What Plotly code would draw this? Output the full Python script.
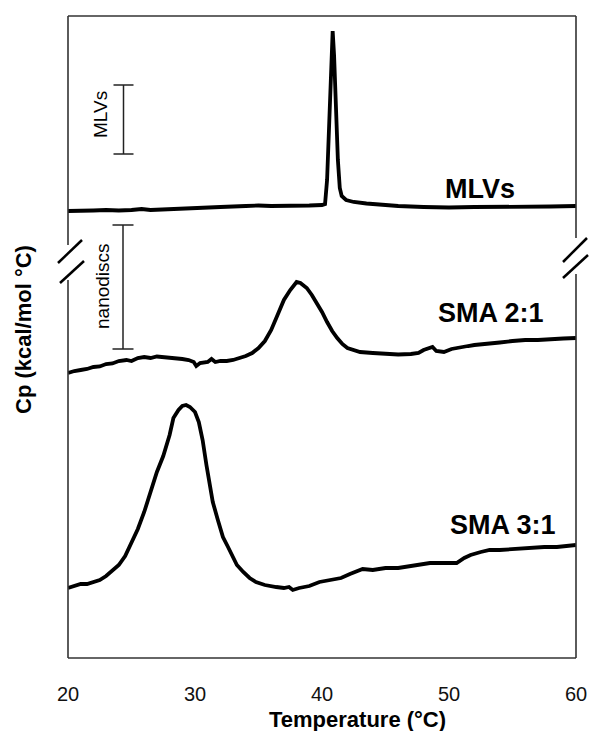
import plotly.graph_objects as go

# ---- data (Cp in arbitrary units) ----
mlv_t = [20, 21, 22, 23, 24, 25, 25.8, 26.5, 28, 30, 32, 34, 35, 36, 37, 38, 39, 40, 40.24, 40.4,
         40.55, 40.7, 40.84, 40.95, 41.1, 41.25, 41.4, 41.55, 41.9, 42.5, 43.5, 45, 46, 48, 50, 52,
         55, 58, 60]
mlv_cp = [447, 447, 447.5, 448, 447.5, 448, 449, 448, 449, 450, 451, 452, 452.5, 452, 452, 452.5,
          452.5, 453, 454, 478, 538, 598, 627, 603, 548, 498, 470, 462, 458, 456, 454.5, 453, 452,
          451, 450.5, 451, 451, 451.5, 452]

sma21_t = [20.0, 20.5, 21.0, 21.5, 22.0, 22.5, 23.0, 23.5, 24.0, 24.6, 25.0, 25.5, 26.0, 26.5,
           27.0, 27.5, 28.0, 28.5, 29.0, 29.5, 29.9, 30.1, 30.4, 31.0, 31.3, 31.6, 32.0, 32.5,
           33.0, 33.5, 34.0, 34.5, 35.0, 35.5, 36.0, 36.5, 37.0, 37.5, 38.0, 38.3, 38.8, 39.2,
           39.6, 40.0, 40.4, 40.8, 41.2, 41.6, 42.0, 42.5, 43.0, 44.0, 45.0, 46.0, 47.0, 47.6,
           48.0, 48.4, 48.7, 49.0, 49.6, 50.2, 50.9, 51.5, 52.0, 53.0, 53.5, 54.0, 55.0, 56.0,
           57.0, 58.0, 59.0, 60.0]
sma21_cp = [285, 287, 288, 289, 291, 291.5, 294, 294.5, 297, 298, 297, 300, 301, 300, 301.5, 301,
            300, 299.5, 299, 298, 296, 292, 295, 296, 299, 296, 297, 297, 298, 300, 302, 305, 310,
            317, 328, 343, 358, 368, 376, 375, 370, 363, 355, 346, 336, 327, 320, 314, 310, 308,
            306, 305, 304, 303.5, 304, 305, 308, 310, 311, 307, 306, 309, 311, 312, 313, 314, 315,
            315.5, 317, 318, 318, 319, 319.5, 320]

sma31_t = [20.0, 20.5, 21.0, 21.5, 22.0, 22.5, 23.0, 23.5, 24.0, 24.5, 25.0, 25.5, 26.0, 26.5,
           27.0, 27.5, 28.0, 28.3, 28.7, 29.0, 29.3, 29.6, 30.0, 30.3, 30.6, 30.9, 31.1, 31.4,
           31.8, 32.2, 32.6, 33.0, 33.3, 33.8, 34.3, 34.8, 35.5, 36.4, 37.0, 37.4, 37.7, 38.2,
           39.0, 39.8, 40.6, 41.5, 42.2, 43.2, 44.0, 45.0, 46.0, 47.0, 48.0, 48.5, 49.5, 50.6,
           51.2, 51.7, 52.5, 53.2, 54.0, 55.0, 56.4, 57.5, 58.5, 59.3, 60.0]
sma31_cp = [70, 72, 74, 74, 76, 78, 82, 87, 93, 102, 115, 129, 146, 165, 186, 202, 223, 240, 248,
            252, 253, 251, 246, 236, 218, 193, 176, 156, 138, 121, 111, 101, 93, 86, 80, 76, 73, 71,
            70, 71, 68, 70, 72, 76, 78, 80, 84, 89, 88, 90, 90, 92, 94, 95, 95, 95, 100, 103, 106,
            108, 108, 109, 110, 111, 111, 112, 113]

x_ticks = [20, 30, 40, 50, 60]
series_labels = ["MLVs", "SMA 2:1", "SMA 3:1"]

W, H = 590, 731
ML, MR, MT, MB = 68, 14, 16, 73
PW, PH = W - ML - MR, H - MT - MB


def px(x):
    return (x - ML) / PW


def py(y):
    return (H - MB - y) / PH


FONT = "Arial, Liberation Sans, sans-serif"
fig = go.Figure()
for t, cp in [(mlv_t, mlv_cp), (sma21_t, sma21_cp), (sma31_t, sma31_cp)]:
    fig.add_trace(go.Scatter(x=t, y=cp, mode="lines",
                             line=dict(color="black", width=3.8), showlegend=False,
                             hoverinfo="skip"))

shapes = []
fc = "#333333"
fw = 1.6
# frame with breaks
shapes.append(dict(type="line", xref="paper", yref="paper", x0=0, x1=1, y0=1, y1=1,
                   line=dict(color=fc, width=fw)))
shapes.append(dict(type="line", xref="paper", yref="paper", x0=0, x1=1, y0=0, y1=0,
                   line=dict(color=fc, width=fw)))
shapes.append(dict(type="line", xref="paper", yref="paper", x0=0, x1=0, y0=1, y1=py(245),
                   line=dict(color=fc, width=fw)))
shapes.append(dict(type="line", xref="paper", yref="paper", x0=0, x1=0, y0=py(280), y1=0,
                   line=dict(color=fc, width=fw)))
shapes.append(dict(type="line", xref="paper", yref="paper", x0=1, x1=1, y0=1, y1=py(238),
                   line=dict(color=fc, width=fw)))
shapes.append(dict(type="line", xref="paper", yref="paper", x0=1, x1=1, y0=py(274), y1=0,
                   line=dict(color=fc, width=fw)))
# break marks
for (x0, y0, x1, y1) in [(58, 263, 82, 240), (60, 283, 84, 261),
                         (563, 262, 587, 238), (563, 278, 588, 255)]:
    shapes.append(dict(type="line", xref="paper", yref="paper", x0=px(x0), x1=px(x1),
                       y0=py(y0), y1=py(y1), line=dict(color="black", width=2.5)))
# scale bars
for (xc, ytop, ybot, half) in [(123.5, 85, 154, 10), (123, 225, 349, 10.5)]:
    shapes.append(dict(type="line", xref="paper", yref="paper", x0=px(xc), x1=px(xc),
                       y0=py(ytop), y1=py(ybot), line=dict(color="#222", width=1.5)))
    for yy in (ytop, ybot):
        shapes.append(dict(type="line", xref="paper", yref="paper", x0=px(xc - half),
                           x1=px(xc + half), y0=py(yy), y1=py(yy),
                           line=dict(color="#222", width=1.5)))

annotations = []
for (txt, x, y) in [(series_labels[0], 52.44, 469), (series_labels[1], 53.3, 345),
                    (series_labels[2], 54.25, 133)]:
    annotations.append(dict(text="<b>%s</b>" % txt, x=x, y=y, xref="x", yref="y",
                            showarrow=False, font=dict(family=FONT, size=27, color="black"),
                            xanchor="center", yanchor="middle"))
annotations.append(dict(text="MLVs", x=px(101), y=py(115), xref="paper", yref="paper",
                        showarrow=False, textangle=-90,
                        font=dict(family=FONT, size=19, color="black"),
                        xanchor="center", yanchor="middle"))
annotations.append(dict(text="nanodiscs", x=px(102), y=py(286), xref="paper", yref="paper",
                        showarrow=False, textangle=-90,
                        font=dict(family=FONT, size=19, color="black"),
                        xanchor="center", yanchor="middle"))
annotations.append(dict(text="<b>Temperature (°C)</b>", x=px(357), y=py(719), xref="paper",
                        yref="paper", showarrow=False,
                        font=dict(family=FONT, size=22, color="black"),
                        xanchor="center", yanchor="middle"))
annotations.append(dict(text="<b>Cp (kcal/mol °C)</b>", x=px(23), y=py(330), xref="paper",
                        yref="paper", showarrow=False, textangle=-90,
                        font=dict(family=FONT, size=22, color="black"),
                        xanchor="center", yanchor="middle"))

fig.update_layout(
    width=W, height=H,
    margin=dict(l=ML, r=MR, t=MT, b=MB, pad=0, autoexpand=False),
    paper_bgcolor="white", plot_bgcolor="white",
    shapes=shapes, annotations=annotations,
    xaxis=dict(range=[20, 60], tickvals=x_ticks, ticktext=[str(v) for v in x_ticks],
               showgrid=False, zeroline=False, showline=False, automargin=False,
               ticks="outside", ticklen=18, tickcolor="rgba(0,0,0,0)",
               tickfont=dict(family=FONT, size=20, color="#111")),
    yaxis=dict(range=[0, 642], showticklabels=False, showgrid=False, zeroline=False,
               showline=False, ticks="", automargin=False),
)
fig.write_html("out.html", config={"displayModeBar": False},
               post_script="document.body.style.margin='0';")
